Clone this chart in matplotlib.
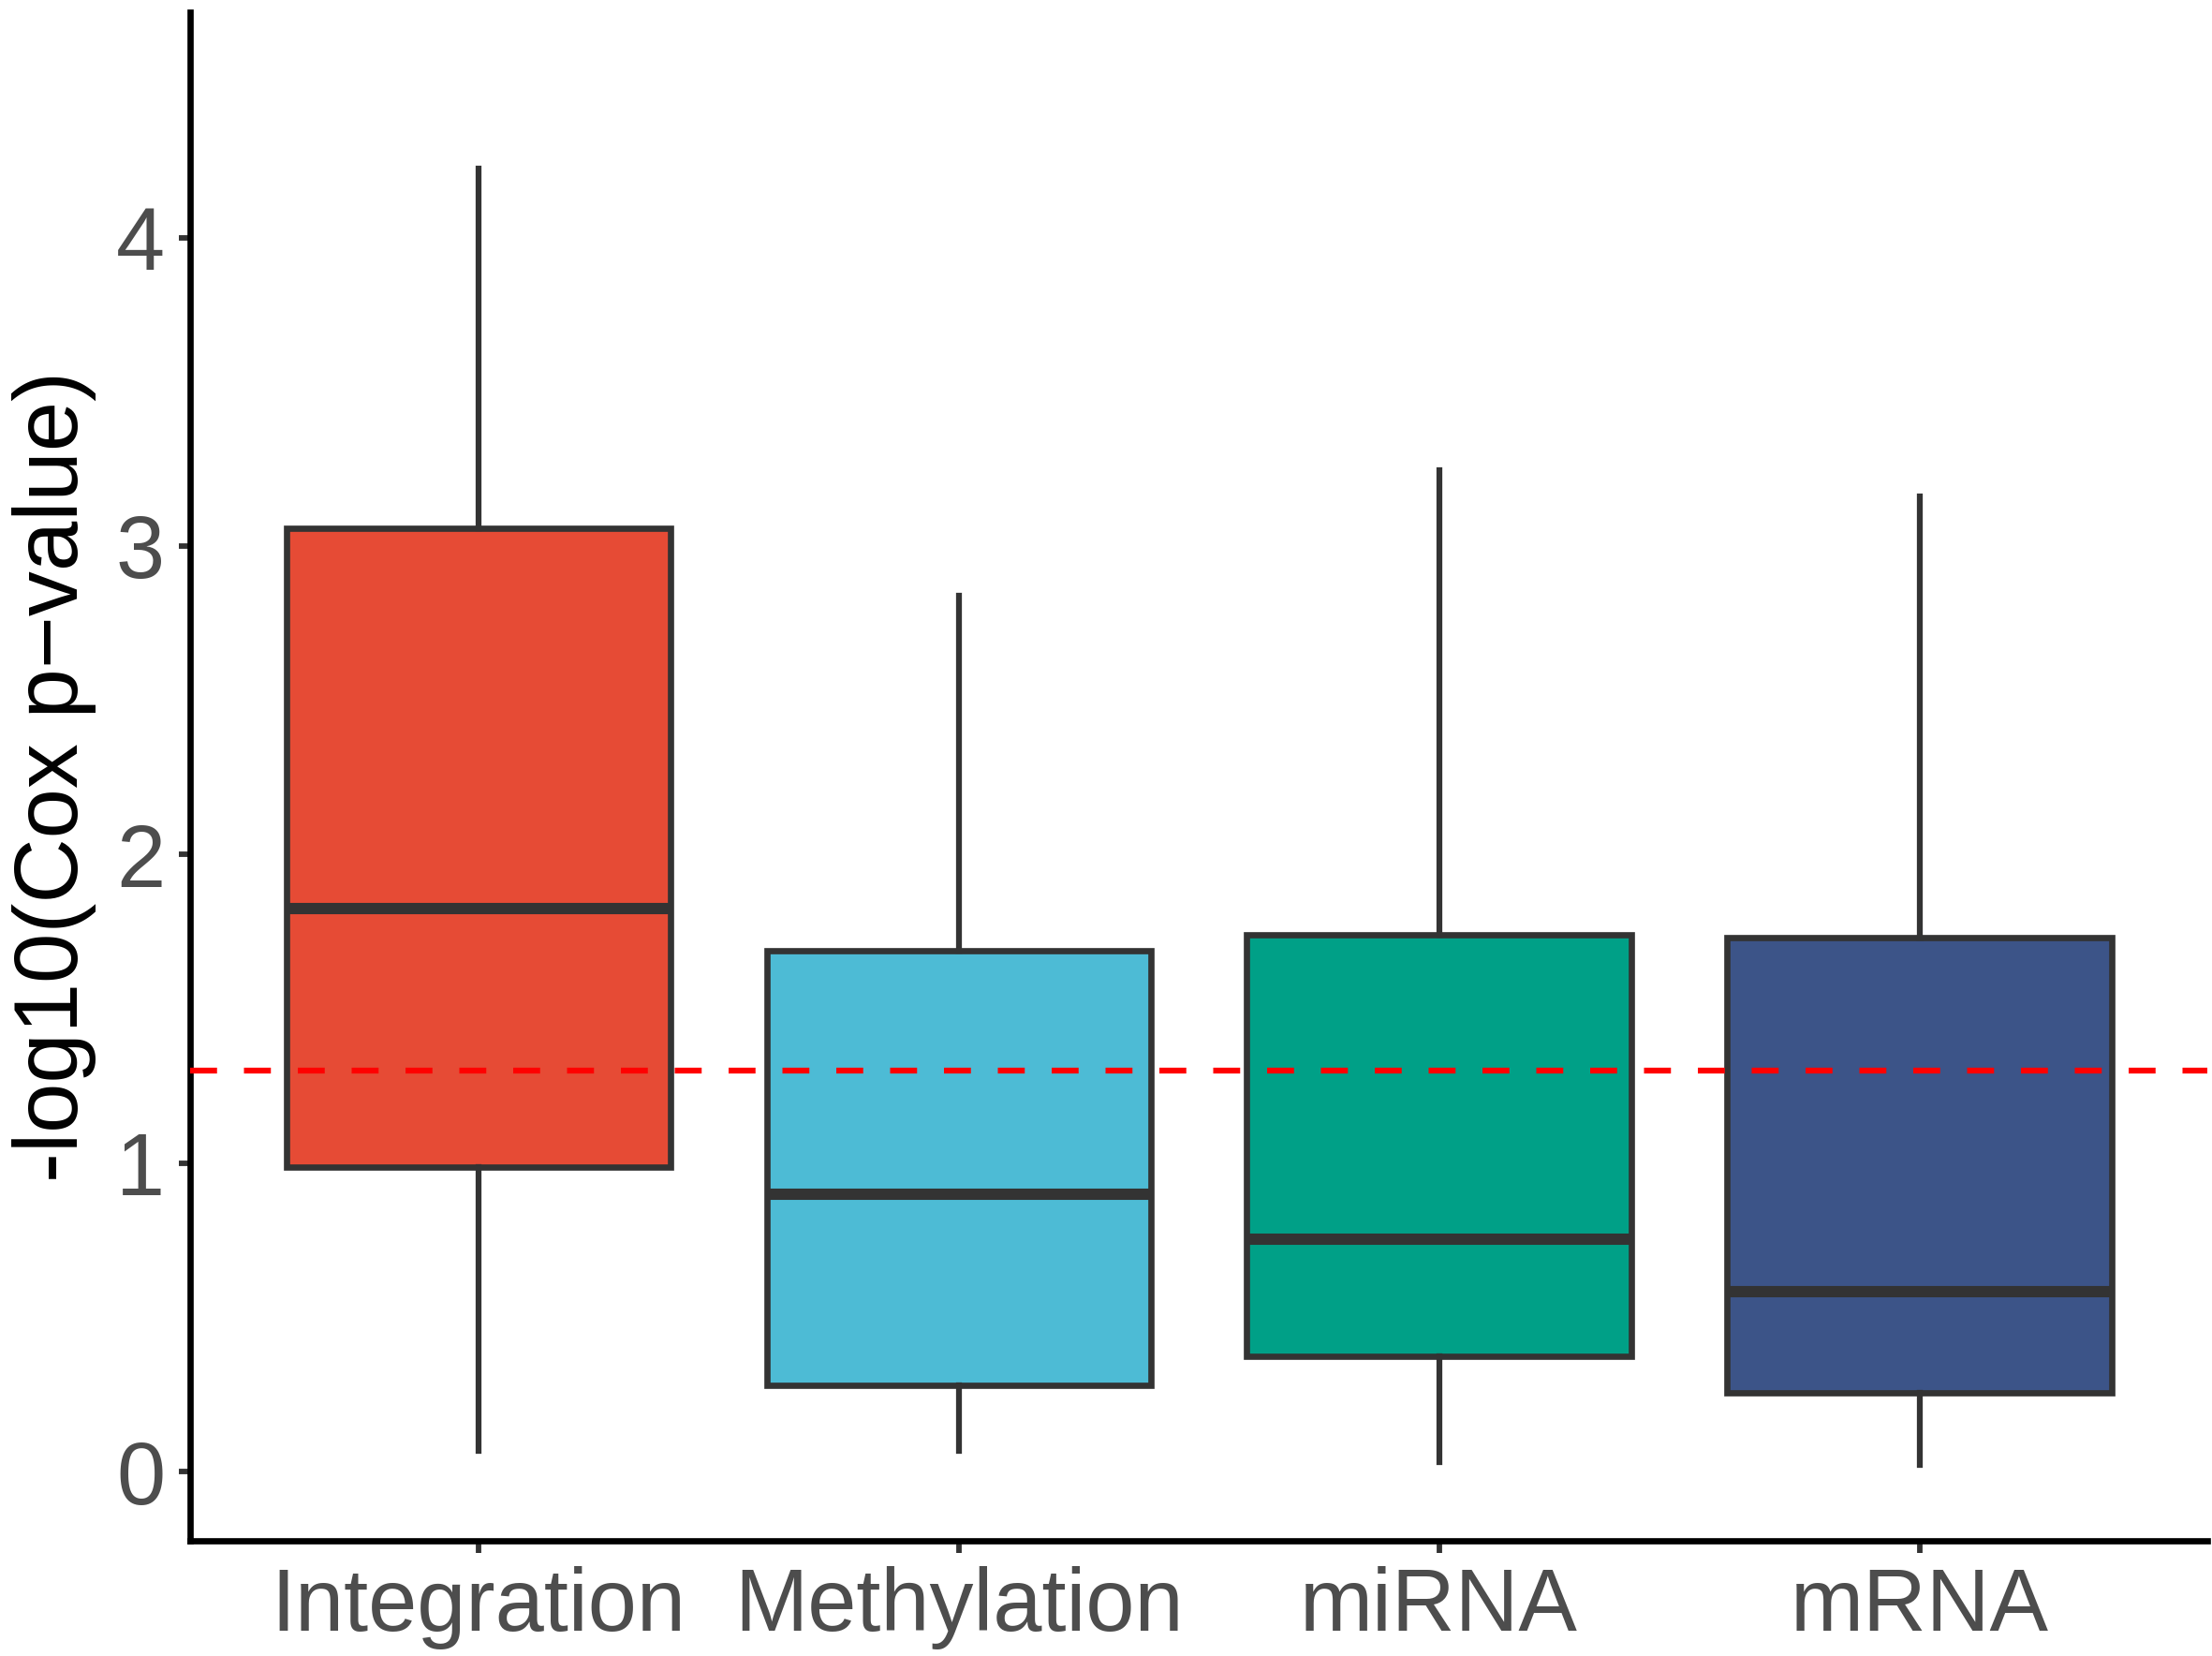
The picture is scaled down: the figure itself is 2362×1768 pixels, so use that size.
import matplotlib
matplotlib.use('Agg')
import matplotlib.pyplot as plt

# box statistics
groups = ['Integration', 'Methylation', 'miRNA', 'mRNA']
whislo = [0.068, 0.068, 0.032, 0.023]
q1 = [0.986, 0.279, 0.374, 0.256]
med = [1.826, 0.900, 0.753, 0.584]
q3 = [3.059, 1.689, 1.740, 1.731]
whishi = [4.224, 2.840, 3.247, 3.160]
colors = ['#E64B35', '#4DBBD5', '#00A087', '#3C5488']
cutoff = 1.301  # -log10(0.05)

plt.rcParams['font.family'] = ['Liberation Sans', 'DejaVu Sans']

fig = plt.figure(figsize=(2362 / 300, 1768 / 300), dpi=300)
ax = fig.add_axes([0.086, 0.0696, 0.912, 0.923])

stats = []
for i, g in enumerate(groups):
    stats.append(dict(label=g, whislo=whislo[i], q1=q1[i], med=med[i],
                      q3=q3[i], whishi=whishi[i], fliers=[]))

pos = list(range(1, len(groups) + 1))
bp = ax.bxp(stats, positions=pos, widths=0.8, patch_artist=True,
            showcaps=False, showfliers=False,
            boxprops=dict(edgecolor='#333333', linewidth=1.6),
            whiskerprops=dict(color='#333333', linewidth=1.5),
            medianprops=dict(color='#333333', linewidth=2.9,
                             solid_capstyle='butt'))
for patch, c in zip(bp['boxes'], colors):
    patch.set_facecolor(c)

# significance threshold
ax.axhline(cutoff, color='#FF0000', linewidth=1.5, dashes=(4.6, 4.6),
           zorder=5)

# axes properties
ax.set_xlim(0.4, 4.6)
ax.set_ylim(-0.224, 4.73)
ax.set_yticks([0, 1, 2, 3, 4])
ax.set_xticks(pos)
ax.set_xticklabels(groups)
ax.set_ylabel('-log10(Cox p\u2212value)', fontsize=23, color='black',
              labelpad=5)
for s in ['top', 'right']:
    ax.spines[s].set_visible(False)
for s in ['left', 'bottom']:
    ax.spines[s].set_linewidth(1.6)
    ax.spines[s].set_color('black')
ax.tick_params(axis='both', length=3, width=1.4, color='#333333',
               labelsize=22.5, labelcolor='#4D4D4D', pad=3.5)

fig.savefig('out.png', dpi=300)
